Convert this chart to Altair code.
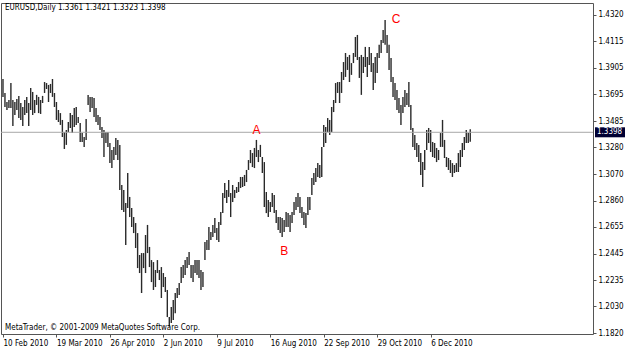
import altair as alt
import pandas as pd

# Daily EURUSD bars (high / low), one value per trading day
highs = [
    1.3817, 1.3707, 1.3636, 1.3652, 1.3785, 1.3652, 1.3636, 1.3660, 1.3684, 1.3628,
    1.3597, 1.3652, 1.3676, 1.3628, 1.3746, 1.3715, 1.3652, 1.3692, 1.3676, 1.3652,
    1.3684, 1.3793, 1.3785, 1.3770, 1.3778, 1.3817, 1.3707, 1.3636, 1.3573, 1.3549,
    1.3495, 1.3400, 1.3416, 1.3479, 1.3549, 1.3534, 1.3589, 1.3597, 1.3518, 1.3471,
    1.3392, 1.3361, 1.3502, 1.3692, 1.3676, 1.3676, 1.3668, 1.3589, 1.3534, 1.3518,
    1.3440, 1.3416, 1.3400, 1.3400, 1.3314, 1.3259, 1.3283, 1.3353, 1.3338, 1.3299,
    1.2984, 1.2945, 1.2842, 1.3078, 1.2890, 1.2803, 1.2732, 1.2685, 1.2606, 1.2434,
    1.2449, 1.2449, 1.2591, 1.2670, 1.2497, 1.2394, 1.2378, 1.2316, 1.2394, 1.2316,
    1.2339, 1.2292, 1.2261, 1.2159, 1.1946, 1.2025, 1.2080, 1.2135, 1.2174, 1.2213,
    1.2339, 1.2355, 1.2394, 1.2418, 1.2457, 1.2355, 1.2355, 1.2394, 1.2394, 1.2394,
    1.2316, 1.2300, 1.2536, 1.2552, 1.2654, 1.2614, 1.2670, 1.2724, 1.2646, 1.2693,
    1.2771, 1.2921, 1.2999, 1.2945, 1.3023, 1.2921, 1.2984, 1.2945, 1.2968, 1.3007,
    1.3047, 1.3047, 1.3063, 1.3102, 1.3180, 1.3259, 1.3235, 1.3275, 1.3338, 1.3259,
    1.3299, 1.3204, 1.3164, 1.2929, 1.2866, 1.2850, 1.2921, 1.2906, 1.2787, 1.2732,
    1.2732, 1.2724, 1.2709, 1.2771, 1.2763, 1.2748, 1.2771, 1.2850, 1.2890, 1.2921,
    1.2890, 1.2811, 1.2771, 1.2763, 1.2890, 1.2890, 1.3039, 1.3078, 1.3117, 1.3156,
    1.3141, 1.3283, 1.3456, 1.3440, 1.3510, 1.3495, 1.3597, 1.3652, 1.3785, 1.3793,
    1.3793, 1.3872, 1.3950, 1.4021, 1.3990, 1.4006, 1.3942, 1.4021, 1.4147, 1.4163,
    1.3990, 1.4006, 1.3990, 1.4069, 1.3990, 1.4069, 1.4021, 1.3942, 1.3990, 1.4021,
    1.4085, 1.4124, 1.4202, 1.4281, 1.4163, 1.4085, 1.3982, 1.3833, 1.3785, 1.3731,
    1.3668, 1.3613, 1.3676, 1.3731, 1.3707, 1.3793, 1.3613, 1.3432, 1.3377, 1.3314,
    1.3299, 1.3235, 1.3164, 1.3259, 1.3416, 1.3432, 1.3416, 1.3322, 1.3314, 1.3275,
    1.3259, 1.3392, 1.3495, 1.3338, 1.3204, 1.3196, 1.3180, 1.3156, 1.3141, 1.3156,
    1.3235, 1.3259, 1.3314, 1.3361, 1.3416, 1.3392, 1.3421,
]
lows = [
    1.3676, 1.3597, 1.3573, 1.3589, 1.3589, 1.3448, 1.3534, 1.3573, 1.3510, 1.3495,
    1.3448, 1.3534, 1.3549, 1.3448, 1.3573, 1.3534, 1.3549, 1.3613, 1.3549, 1.3542,
    1.3628, 1.3707, 1.3738, 1.3636, 1.3707, 1.3676, 1.3597, 1.3495, 1.3479, 1.3456,
    1.3361, 1.3267, 1.3299, 1.3400, 1.3432, 1.3392, 1.3440, 1.3456, 1.3471, 1.3322,
    1.3322, 1.3283, 1.3338, 1.3613, 1.3557, 1.3589, 1.3518, 1.3479, 1.3456, 1.3416,
    1.3353, 1.3204, 1.3314, 1.3283, 1.3156, 1.3117, 1.3180, 1.3220, 1.3180, 1.2945,
    1.2787, 1.2771, 1.2513, 1.2803, 1.2732, 1.2654, 1.2606, 1.2489, 1.2331, 1.2292,
    1.2135, 1.2331, 1.2292, 1.2449, 1.2339, 1.2221, 1.2159, 1.2182, 1.2292, 1.2237,
    1.2096, 1.2182, 1.2143, 1.1946, 1.1870, 1.1899, 1.1923, 1.1977, 1.2096, 1.2120,
    1.2213, 1.2253, 1.2277, 1.2331, 1.2355, 1.2253, 1.2221, 1.2292, 1.2277, 1.2253,
    1.2159, 1.2182, 1.2394, 1.2473, 1.2473, 1.2552, 1.2575, 1.2606, 1.2552, 1.2536,
    1.2670, 1.2763, 1.2882, 1.2842, 1.2890, 1.2732, 1.2850, 1.2882, 1.2921, 1.2929,
    1.2960, 1.2968, 1.2976, 1.3007, 1.3102, 1.3156, 1.3125, 1.3117, 1.3204, 1.3164,
    1.3204, 1.3078, 1.2811, 1.2763, 1.2732, 1.2771, 1.2811, 1.2763, 1.2685, 1.2630,
    1.2606, 1.2575, 1.2614, 1.2654, 1.2654, 1.2614, 1.2685, 1.2748, 1.2787, 1.2811,
    1.2763, 1.2724, 1.2670, 1.2646, 1.2748, 1.2787, 1.2906, 1.2984, 1.3007, 1.3047,
    1.3039, 1.3047, 1.3283, 1.3314, 1.3400, 1.3377, 1.3400, 1.3557, 1.3628, 1.3707,
    1.3628, 1.3707, 1.3809, 1.3833, 1.3888, 1.3793, 1.3849, 1.3942, 1.3990, 1.3966,
    1.3825, 1.3692, 1.3864, 1.3911, 1.3833, 1.3927, 1.3872, 1.3731, 1.3785, 1.3864,
    1.3982, 1.4021, 1.4100, 1.4085, 1.4021, 1.3888, 1.3793, 1.3676, 1.3652, 1.3573,
    1.3549, 1.3456, 1.3549, 1.3597, 1.3613, 1.3597, 1.3416, 1.3283, 1.3259, 1.3204,
    1.3164, 1.3063, 1.2968, 1.3102, 1.3259, 1.3314, 1.3243, 1.3204, 1.3196, 1.3164,
    1.3180, 1.3283, 1.3283, 1.3196, 1.3125, 1.3102, 1.3078, 1.3047, 1.3078, 1.3086,
    1.3086, 1.3125, 1.3204, 1.3259, 1.3314, 1.3314, 1.3323,
]

date_ticks = [0, 27, 54, 81, 108, 135, 162, 189, 216]
date_labels = ["10 Feb 2010", "19 Mar 2010", "26 Apr 2010", "2 Jun 2010", "9 Jul 2010",
               "16 Aug 2010", "22 Sep 2010", "29 Oct 2010", "6 Dec 2010"]
price_ticks = [1.4320, 1.4115, 1.3905, 1.3695, 1.3485, 1.3280, 1.3070, 1.2860,
               1.2655, 1.2445, 1.2235, 1.2030, 1.1820]
last_price = [1.3398]
last_price_label = ["1.3398"]
header_text = ["EURUSD,Daily  1.3361 1.3421 1.3323 1.3398"]
footer_text = ["MetaTrader, \u00a9 2001-2009 MetaQuotes Software Corp."]
wave_labels = ["A", "B", "C"]
wave_bars = [128.0, 142.0, 198.5]
wave_prices = [1.3416, 1.2465, 1.4290]

FONT = "DejaVu Sans Condensed, Liberation Sans, sans-serif"
W, H = 592, 331

bars = pd.DataFrame({"bar": list(range(len(highs))), "high": highs, "low": lows})
last_df = pd.DataFrame({"price": last_price, "label": last_price_label})
waves = pd.DataFrame({"bar": wave_bars, "price": wave_prices, "label": wave_labels})
header_df = pd.DataFrame({"t": header_text})
footer_df = pd.DataFrame({"t": footer_text})

xscale = alt.Scale(domain=[-1, 298], nice=False, zero=False)
yscale = alt.Scale(domain=[1.1813, 1.4414], nice=False, zero=False)

label_expr = "[" + ",".join("'%s'" % d for d in date_labels) + "][round(datum.value / 27)]"

x_axis = alt.Axis(values=date_ticks, labelExpr=label_expr, labelAlign="left",
                  labelPadding=2, tickSize=3, grid=False, domain=False, title=None,
                  labelFont=FONT, labelFontSize=8, labelColor="#000000",
                  tickColor="#555555", labelOverlap=False, labelFlush=False)
y_axis = alt.Axis(orient="right", values=price_ticks, format=".4f", tickSize=3,
                  labelPadding=2, grid=False, domain=False, title=None,
                  labelFont=FONT, labelFontSize=8, labelColor="#000000",
                  tickColor="#555555", labelOverlap=False, labelFlush=False,
                  labelBaseline="middle")

bar_layer = alt.Chart(bars).mark_rule(color="#2a2a2a", strokeWidth=1.4).encode(
    x=alt.X("bar:Q", scale=xscale, axis=x_axis),
    y=alt.Y("high:Q", scale=yscale, axis=y_axis),
    y2="low:Q",
)

price_line = alt.Chart(last_df).mark_rule(color="#a8a8a8", strokeWidth=1).encode(
    y=alt.Y("price:Q", scale=yscale, axis=y_axis)
)

price_box = alt.Chart(last_df).mark_rule(color="#000033", strokeWidth=10).encode(
    y=alt.Y("price:Q", scale=yscale, axis=y_axis),
    x=alt.value(W + 2),
    x2=alt.value(W + 32),
)
price_text = alt.Chart(last_df).mark_text(
    align="left", baseline="middle", color="#ffffff", font=FONT, fontSize=8
).encode(
    y=alt.Y("price:Q", scale=yscale, axis=y_axis),
    x=alt.value(W + 4),
    text="label:N",
)

wave_text = alt.Chart(waves).mark_text(
    color="#ff0000", font="Liberation Sans", fontSize=12, baseline="middle", align="center"
).encode(
    x=alt.X("bar:Q", scale=xscale, axis=x_axis),
    y=alt.Y("price:Q", scale=yscale, axis=y_axis),
    text="label:N",
)

header = alt.Chart(header_df).mark_text(
    align="left", baseline="middle", font=FONT, fontSize=8, color="#000000"
).encode(x=alt.value(4), y=alt.value(5), text="t:N")

footer = alt.Chart(footer_df).mark_text(
    align="left", baseline="middle", font=FONT, fontSize=8, color="#000000"
).encode(x=alt.value(4), y=alt.value(H - 6), text="t:N")

chart = alt.layer(
    bar_layer, price_line, price_box, price_text, wave_text, header, footer
).properties(
    width=W, height=H,
    autosize=alt.AutoSizeParams(type="none"),
    padding={"left": 1, "top": 3, "right": 32, "bottom": 16},
    background="#ffffff",
).configure_view(
    stroke="#555555", strokeWidth=1
).configure_axis(
    labelOverlap=False
)

chart.save("out.html", embed_options={"renderer": "svg", "actions": False})
